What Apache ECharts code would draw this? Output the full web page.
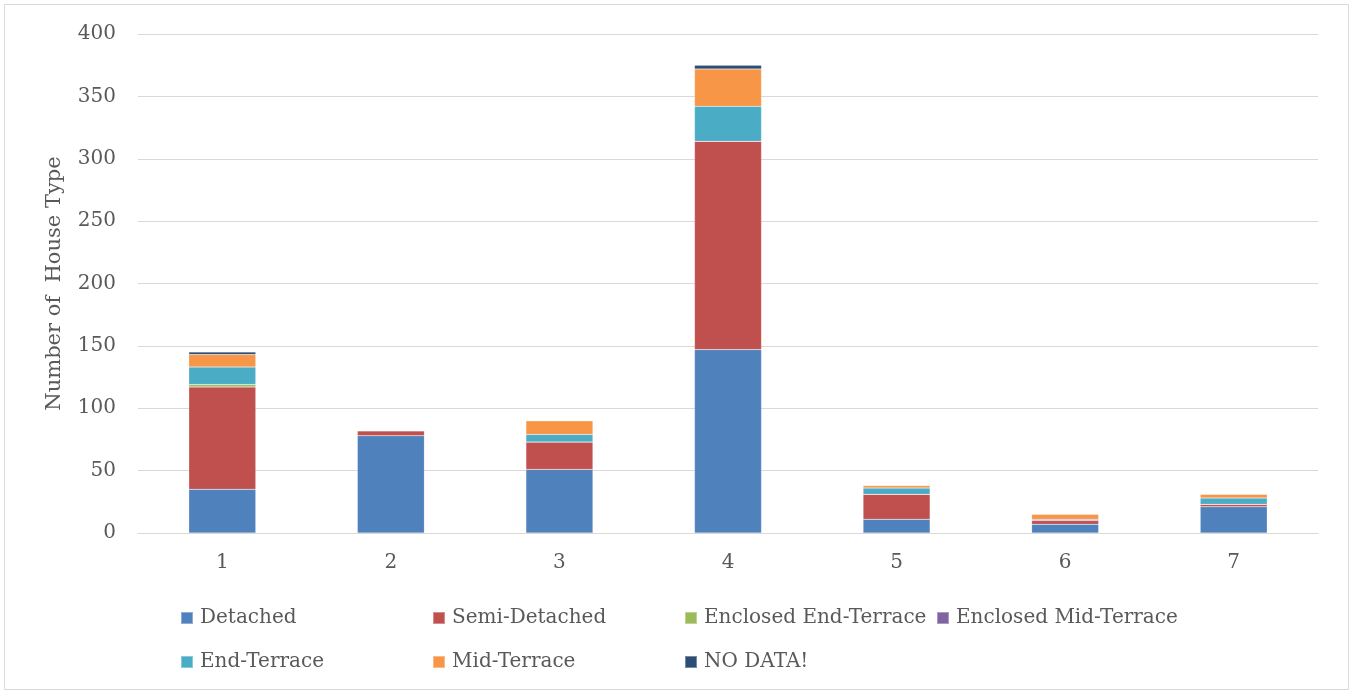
<!DOCTYPE html>
<html>
<head>
<meta charset="utf-8">
<script src="https://cdn.jsdelivr.net/npm/echarts@6/dist/echarts.min.js"></script>
<style>
  html, body { margin: 0; padding: 0; background: #fff; }
  #myChart { width: 1353px; height: 693px; }
</style>
</head>
<body>
<div id="myChart"></div>
<script>
// categories and values
const categories = ['1', '2', '3', '4', '5', '6', '7'];
const detached = [35, 78, 51, 147, 11, 7, 21];
const semiDetached = [82, 4, 22, 167, 20, 3, 2];
const enclosedEnd = [2, 0, 0, 0, 0, 0, 0];
const enclosedMid = [0, 0, 0, 0, 0, 1, 0];
const endTerrace = [14, 0, 6, 28, 5, 0, 5];
const midTerrace = [10, 0, 11, 30, 2, 4, 3];
const noData = [2, 0, 0, 3, 0, 0, 0];
const yTicks = [0, 50, 100, 150, 200, 250, 300, 350, 400];

const seriesNames = ['Detached', 'Semi-Detached', 'Enclosed End-Terrace', 'Enclosed Mid-Terrace', 'End-Terrace', 'Mid-Terrace', 'NO DATA!'];
const seriesData = [detached, semiDetached, enclosedEnd, enclosedMid, endTerrace, midTerrace, noData];
const colors = ['#4F81BD', '#C0504D', '#9BBB59', '#8064A2', '#4BACC6', '#F79646', '#2C4D75'];

const font = '"DejaVu Serif", "Liberation Serif", serif';
const textColor = '#595959';

// legend positions: 4 per row, two rows
let legends = [];
seriesNames.forEach((n, i) => {
  legends.push({
    data: [n],
    left: 175 + (i % 4) * 252,
    top: i < 4 ? 603 : 647,
    itemWidth: 12,
    itemHeight: 12,
    icon: 'rect',
    textStyle: { fontFamily: font, fontSize: 20, color: textColor, padding: [0, 0, 0, 2] },
    selectedMode: false
  });
});

let chart = echarts.init(document.getElementById('myChart'));
chart.setOption({
  animation: false,
  color: colors,
  graphic: [{
    type: 'rect',
    shape: { x: 4.5, y: 4.5, width: 1344, height: 685 },
    style: { fill: 'none', stroke: '#d9d9d9', lineWidth: 1 }
  }],
  legend: legends,
  grid: { left: 138, right: 35, top: 34, bottom: 160 },
  xAxis: {
    type: 'category',
    data: categories,
    axisLine: { lineStyle: { color: '#d9d9d9', width: 1 } },
    axisTick: { show: false },
    axisLabel: { fontFamily: font, fontSize: 20, color: textColor, margin: 20 }
  },
  yAxis: {
    type: 'value',
    min: yTicks[0],
    max: yTicks[yTicks.length - 1],
    interval: 50,
    name: 'Number of  House Type',
    nameLocation: 'middle',
    nameGap: 73,
    nameTextStyle: { fontFamily: font, fontSize: 21, color: textColor },
    axisLine: { show: false },
    axisTick: { show: false },
    splitLine: { lineStyle: { color: '#d9d9d9', width: 1 } },
    axisLabel: { fontFamily: font, fontSize: 20, color: textColor, margin: 22 }
  },
  series: seriesNames.map((n, i) => ({
    name: n,
    type: 'bar',
    stack: 'total',
    barWidth: 67,
    data: seriesData[i],
    itemStyle: { borderColor: 'rgba(255,255,255,0.35)', borderWidth: 0.5 }
  }))
});
</script>
</body>
</html>
